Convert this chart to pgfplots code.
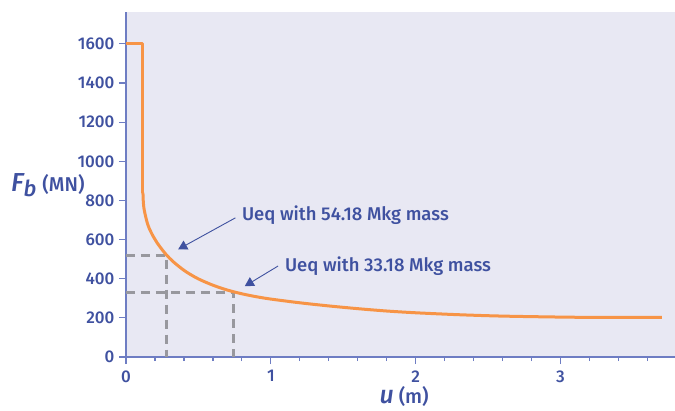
\documentclass[border=0pt]{standalone}
\usepackage{pgfplots}
\pgfplotsset{compat=1.18}
\usepackage{fontspec}
\setmainfont{Fira Sans}
\newfontfamily\med{Fira Sans Medium}
\newfontfamily\medit{Fira Sans Medium Italic}
\usetikzlibrary{arrows.meta}
\definecolor{txtblue}{RGB}{63,81,160}
\definecolor{axblue}{RGB}{110,125,195}
\definecolor{bgc}{RGB}{232,232,243}
\definecolor{curve}{RGB}{247,148,70}
\definecolor{dgray}{RGB}{152,152,158}
\begin{document}
\begin{tikzpicture}
\begin{axis}[
  at={(0,0)}, anchor=south west,
  scale only axis,
  width=549pt, height=345pt,
  xmin=0, xmax=3.79, ymin=0, ymax=1763,
  axis lines=left,
  axis line style={-, axblue, line width=1.2pt},
  axis background/.style={fill=bgc},
  xtick={0,1,2,3},
  minor xtick={0.2,0.4,0.6,0.8,1.2,1.4,1.6,1.8,2.2,2.4,2.6,2.8,3.2,3.4,3.6},
  ytick={0,200,...,1600},
  tick style={axblue, line width=1.2pt},
  tick align=outside,
  major tick length=7pt,
  minor tick length=4pt,
  ticklabel style={font=\fontsize{17}{18}\selectfont\med, text=txtblue},
  /pgf/number format/assume math mode=true,
  /pgf/number format/1000 sep={},
  xticklabel style={yshift=-3pt},
  yticklabel style={xshift=-1pt},
  clip=false,
]
\addplot[dgray, line width=3pt, dash pattern=on 9pt off 6pt] coordinates {(0,520) (0.28,520) (0.28,0)};
\addplot[dgray, line width=3pt, dash pattern=on 9pt off 6pt] coordinates {(0,332) (0.745,332) (0.745,0)};
\addplot[curve, line width=3pt, smooth, tension=0.5] coordinates {
(0.117,840) (0.119,800) (0.123,765) (0.131,733) (0.145,690) (0.16,658) (0.188,616) (0.22,578)
(0.25,548) (0.28,521) (0.32,491) (0.37,460) (0.42,433) (0.5,399) (0.6,367) (0.7,342)
(0.8,323) (0.9,308) (1.0,296) (1.2,277) (1.4,261) (1.6,247) (1.8,235) (2.0,226)
(2.3,216) (2.6,209) (3.0,204) (3.3,202) (3.7,202)};
\addplot[curve, line width=3pt, line join=round] coordinates {(0,1600) (0.117,1600) (0.117,840)};
\draw[txtblue, line width=0.9pt, -{Triangle[width=10pt,length=9pt]}] (axis cs:0.755,711) -- (axis cs:0.36,550);
\draw[txtblue, line width=0.9pt, -{Triangle[width=10pt,length=9pt]}] (axis cs:1.05,465) -- (axis cs:0.82,362);
\node[anchor=west, text=txtblue, font=\fontsize{18.5}{20}\selectfont\med, inner sep=0pt] at (axis cs:0.8,726) {Ueq with 54.18 Mkg mass};
\node[anchor=west, text=txtblue, font=\fontsize{18.5}{20}\selectfont\med, inner sep=0pt] at (axis cs:1.097,465) {Ueq with 33.18 Mkg mass};
\node[anchor=base west, text=txtblue, inner sep=0pt] at (-115pt,165pt) {\fontsize{26}{28}\selectfont\medit F\raisebox{-0.35ex}{\fontsize{22}{24}\selectfont b}\hspace{6pt}\fontsize{20}{21}\selectfont\med(MN)};
\node[anchor=base, text=txtblue, inner sep=0pt] at (axis cs:1.92,-240) {\fontsize{25}{27}\selectfont\medit u\hspace{5pt}\fontsize{20}{22}\selectfont\med(m)};
\end{axis}
\pgfresetboundingbox
\path (-126pt,-53pt) rectangle (549pt,357pt);
\end{tikzpicture}
\end{document}
